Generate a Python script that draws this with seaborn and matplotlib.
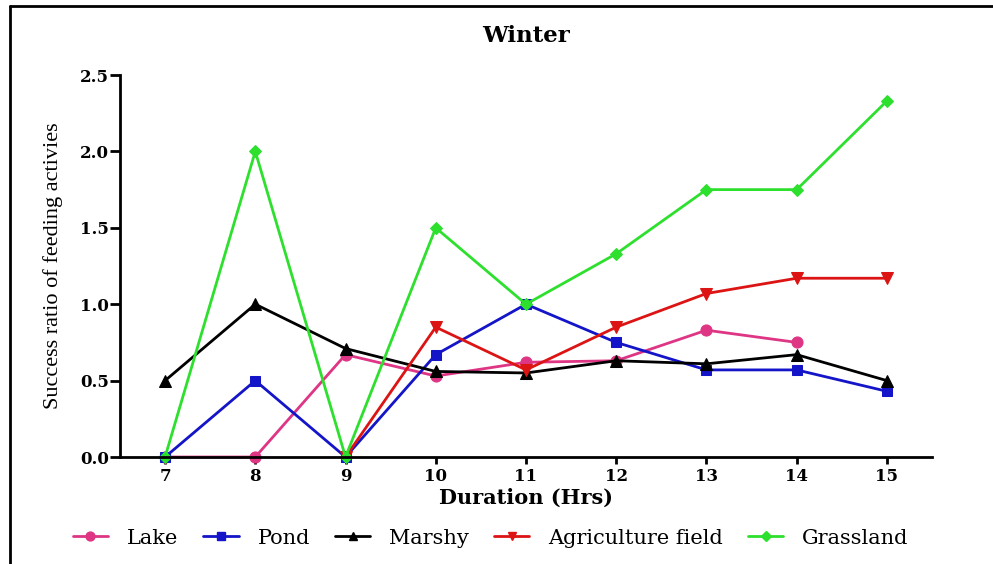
import numpy as np
import pandas as pd
import matplotlib
matplotlib.use("Agg")
import matplotlib.pyplot as plt
from matplotlib.lines import Line2D
import seaborn as sns

sns.set_style("ticks")
plt.rcParams['font.family'] = ['DejaVu Serif', 'Liberation Serif']
plt.rcParams['text.color'] = 'black'
plt.rcParams['axes.labelcolor'] = 'black'
plt.rcParams['xtick.color'] = 'black'
plt.rcParams['ytick.color'] = 'black'
plt.rcParams['axes.edgecolor'] = 'black'

hours = [7, 8, 9, 10, 11, 12, 13, 14, 15]
lake = [0.0, 0.0, 0.67, 0.53, 0.62, 0.63, 0.83, 0.75, np.nan]
pond = [0.0, 0.5, 0.0, 0.67, 1.0, 0.75, 0.57, 0.57, 0.43]
marshy = [0.5, 1.0, 0.71, 0.56, 0.55, 0.63, 0.61, 0.67, 0.5]
agri = [np.nan, np.nan, 0.0, 0.85, 0.57, 0.85, 1.07, 1.17, 1.17]
grass = [0.0, 2.0, 0.0, 1.5, 1.0, 1.33, 1.75, 1.75, 2.33]

names = ["Lake", "Pond", "Marshy", "Agriculture field", "Grassland"]
series = [lake, pond, marshy, agri, grass]
colors = ["#DE3584", "#1414C8", "#000000", "#DC1414", "#2EE02E"]
markers = ["o", "s", "^", "v", "D"]
msizes = [8, 7, 8, 8, 6.5]

fig = plt.figure(figsize=(9.93, 5.64), dpi=100)
ax = fig.add_axes([0.1208, 0.1897, 0.8178, 0.6773])

for name, vals, c, m, ms in zip(names, series, colors, markers, msizes):
    df = pd.DataFrame({"x": hours, "y": vals}).dropna()
    sns.lineplot(data=df, x="x", y="y", ax=ax, color=c, marker=m,
                 markersize=ms, markeredgecolor=c, linewidth=2.0, label=name,
                 legend=False, clip_on=False)

ax.set_xlim(6.5, 15.5)
ax.set_ylim(0, 2.5)
ax.set_xticks(hours)
ax.set_yticks([0.0, 0.5, 1.0, 1.5, 2.0, 2.5])
ax.set_yticklabels(["0.0", "0.5", "1.0", "1.5", "2.0", "2.5"])
sns.despine(ax=ax)
for s in ["left", "bottom"]:
    ax.spines[s].set_linewidth(2.0)
ax.tick_params(axis="y", width=2.0, length=7, labelsize=12, pad=1)
ax.tick_params(axis="x", width=2.0, length=5, labelsize=12, pad=3)
for lab in ax.get_xticklabels() + ax.get_yticklabels():
    lab.set_fontweight("bold")

ax.set_title("Winter", fontsize=16.5, fontweight="bold", pad=24)
ax.set_xlabel("Duration (Hrs)", fontsize=15, fontweight="bold", labelpad=2)
ax.set_ylabel("Success ratio of feeding activies", fontsize=16,
              family=["Liberation Serif", "DejaVu Serif"], labelpad=12)

handles = [Line2D([0], [0], color=c, marker=m, markersize=ms * 0.8,
                  markeredgecolor=c, linewidth=2.0)
           for c, m, ms in zip(colors, markers, msizes)]
fig.legend(handles, names, loc="center", bbox_to_anchor=(0.494, 0.046), ncol=5,
           frameon=False, fontsize=15, handlelength=1.7, columnspacing=1.2,
           handletextpad=0.9)

# figure frame (left and top edges)
fig.add_artist(Line2D([0.0105, 0.0105], [0.0, 0.99], transform=fig.transFigure,
                      color="black", linewidth=2))
fig.add_artist(Line2D([0.0105, 1.0], [0.99, 0.99], transform=fig.transFigure,
                      color="black", linewidth=2))

fig.savefig("out.png", dpi=100, facecolor="white")
